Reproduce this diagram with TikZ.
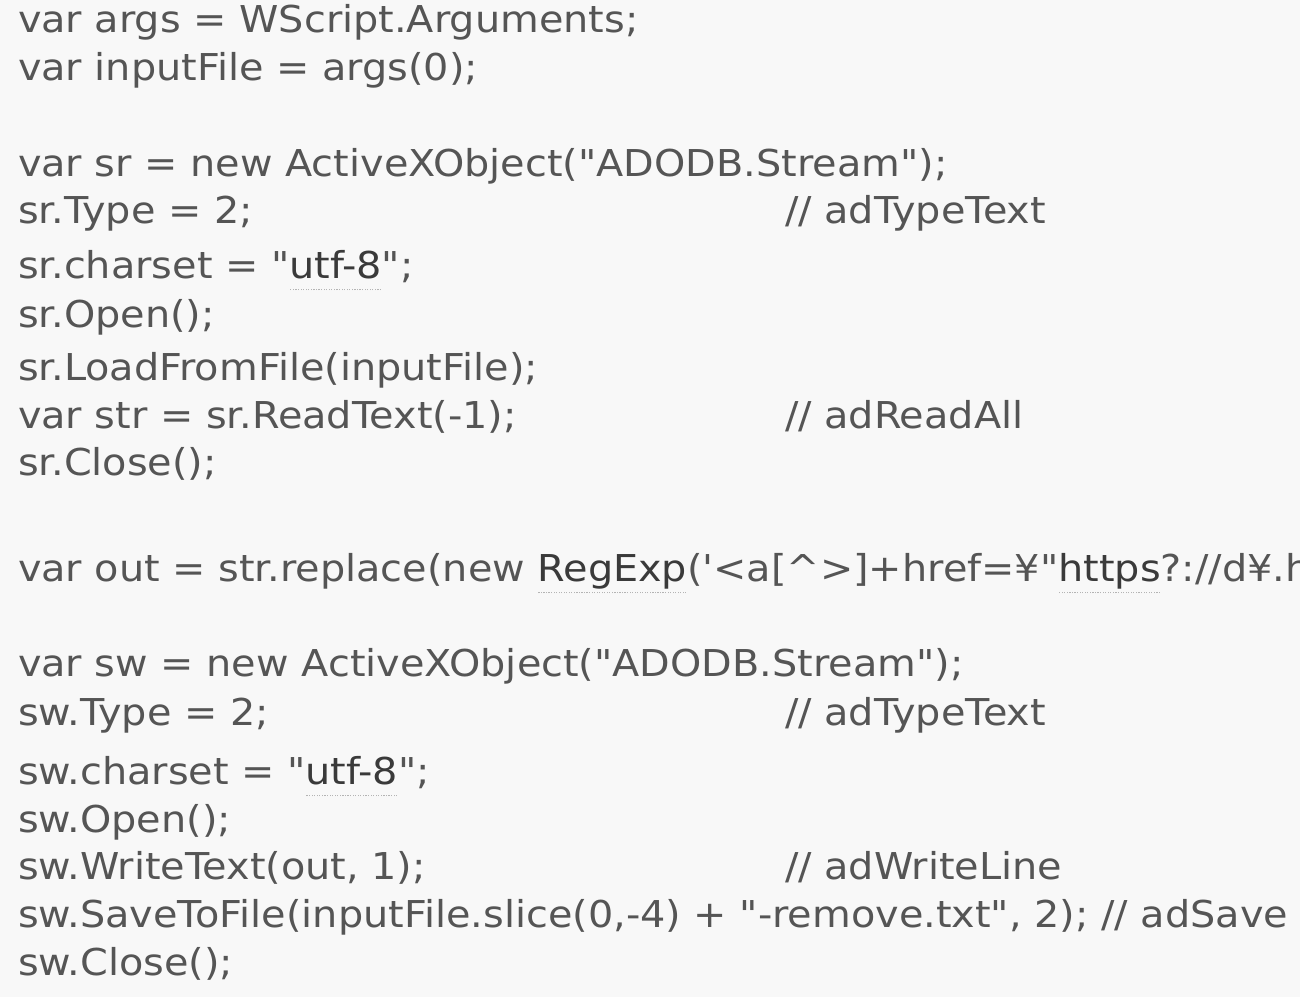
\documentclass[tikz,border=0pt]{standalone}
\usepackage{fontspec}
\newfontfamily\codefont{DejaVu Sans}[FakeStretch=1.075]
\definecolor{bgcol}{HTML}{F8F8F8}
\definecolor{txtcol}{HTML}{555555}
\definecolor{keycol}{HTML}{3A3A3A}
\definecolor{ulcol}{HTML}{B4B4B4}
\newcommand\dotul[1]{\setbox0\hbox{#1}\rlap{\color{ulcol}\raisebox{-12pt}{\hbox to \wd0{\xleaders\hbox to 2.5pt{\hss\rule{1.2pt}{1.3pt}\hss}\hfill}}}\box0}
\newcommand\kw[1]{\dotul{\textcolor{keycol}{#1}}}
\tikzset{
  codeline/.style={anchor=base west, inner sep=0pt, outer sep=0pt, text=txtcol, font=\codefont\fontsize{37}{44}\selectfont},
}
\begin{document}
\begin{tikzpicture}[x=1pt,y=-1pt]
\useasboundingbox (0,0) rectangle (1300,997);
\fill[bgcol] (0,0) rectangle (1300,997);
\clip (0,0) rectangle (1300,997);
\node[codeline] (l1) at (18,32) {var args = WScript.Arguments;};
\node[codeline] (l2) at (18,80) {var inputFile = args(0);};
\node[codeline] (l4) at (18,176) {var sr = new ActiveXObject("ADODB.Stream");};
\node[codeline] (l5) at (18,223) {sr.Type = 2;};
\node[codeline] (c5) at (785,223) {// adTypeText};
\node[codeline] (l6) at (18,278) {sr.charset = "\kw{utf-8}";};
\node[codeline] (l7) at (18,327) {sr.Open();};
\node[codeline] (l8) at (18,380) {sr.LoadFromFile(inputFile);};
\node[codeline] (l9) at (18,428) {var str = sr.ReadText(-1);};
\node[codeline] (c9) at (785,428) {// adReadAll};
\node[codeline] (l10) at (18,475) {sr.Close();};
\node[codeline] (l12) at (18,581) {var out = str.replace(new \kw{RegExp}('<a[\textasciicircum>]+href=¥"\kw{https}?://d¥.h};
\node[codeline] (l14) at (18,676) {var sw = new ActiveXObject("ADODB.Stream");};
\node[codeline] (l15) at (18,725) {sw.Type = 2;};
\node[codeline] (c15) at (785,725) {// adTypeText};
\node[codeline] (l16) at (18,784) {sw.charset = "\kw{utf-8}";};
\node[codeline] (l17) at (18,832) {sw.Open();};
\node[codeline] (l18) at (18,879) {sw.WriteText(out, 1);};
\node[codeline] (c18) at (785,879) {// adWriteLine};
\node[codeline] (l19) at (18,927) {sw.SaveToFile(inputFile.slice(0,-4) + "-remove.txt", 2); // adSave};
\node[codeline] (l20) at (18,975) {sw.Close();};
\end{tikzpicture}
\end{document}
